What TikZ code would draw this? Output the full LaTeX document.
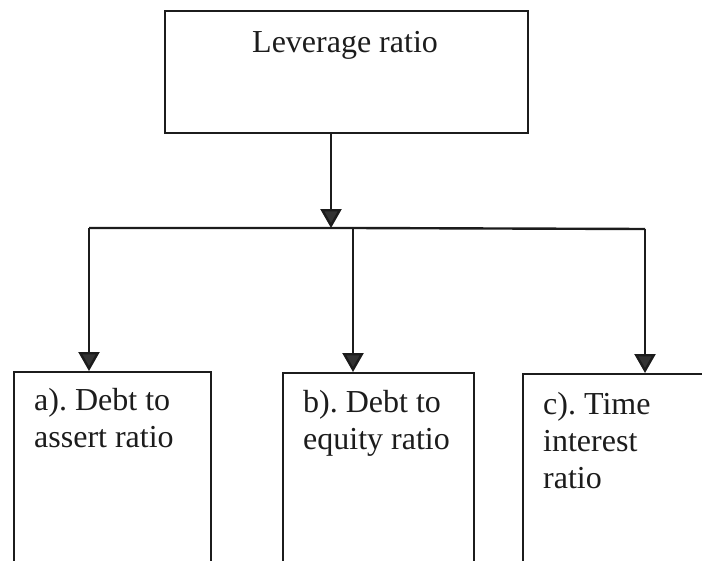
\documentclass[tikz,border=0pt]{standalone}
\usepackage{fontspec}
\setmainfont{Liberation Serif}
\usetikzlibrary{arrows.meta}
\definecolor{ink}{HTML}{1C1C1C}
\definecolor{tipc}{HTML}{333333}
\frenchspacing
\begin{document}
\begin{tikzpicture}[x=1pt,y=-1pt,
  box/.style={draw=ink,line width=2.4pt,anchor=north west,inner sep=0pt},
  lbl/.style={anchor=base west,font=\fontsize{32}{37}\selectfont,inner sep=0pt,align=left,text=ink},
  conn/.style={draw=ink,line width=2.4pt},
  arr/.style={conn,-{Triangle[width=21pt,length=19pt,fill=tipc]}}]
\useasboundingbox (0,0) rectangle (702,560);
\clip (0,0) rectangle (702,560);
% boxes
\node[box,minimum width=363pt,minimum height=122pt] (top) at (164,10) {};
\node[box,minimum width=197pt,minimum height=220pt] (a) at (13,371) {};
\node[box,minimum width=191pt,minimum height=220pt] (b) at (282,372) {};
\node[box,minimum width=220pt,minimum height=220pt] (c) at (522,373) {};
% labels (base anchor = baseline of the last line)
\node[lbl] (ttop) at (252,52) {Leverage ratio};
\node[lbl] (ta) at (34,447) {a). Debt to\\assert ratio};
\node[lbl] (tb) at (303,449) {b). Debt to\\equity ratio};
\node[lbl] (tc) at (543,488) {c). Time\\interest\\ratio};
% junction coordinates
\coordinate (j) at (331,228);
\coordinate (ja) at (89,228);
\coordinate (jb) at (353,228);
\coordinate (jc) at (645,229);
% connectors
\draw[arr] (top.south -| j) -- (j);
\draw[conn] (ja) -- (jb) -- (jc);
\draw[arr] (ja) -- (a.north -| ja);
\draw[arr] (jb) -- (b.north -| jb);
\draw[arr] (jc) -- (c.north -| jc);
\end{tikzpicture}
\end{document}
